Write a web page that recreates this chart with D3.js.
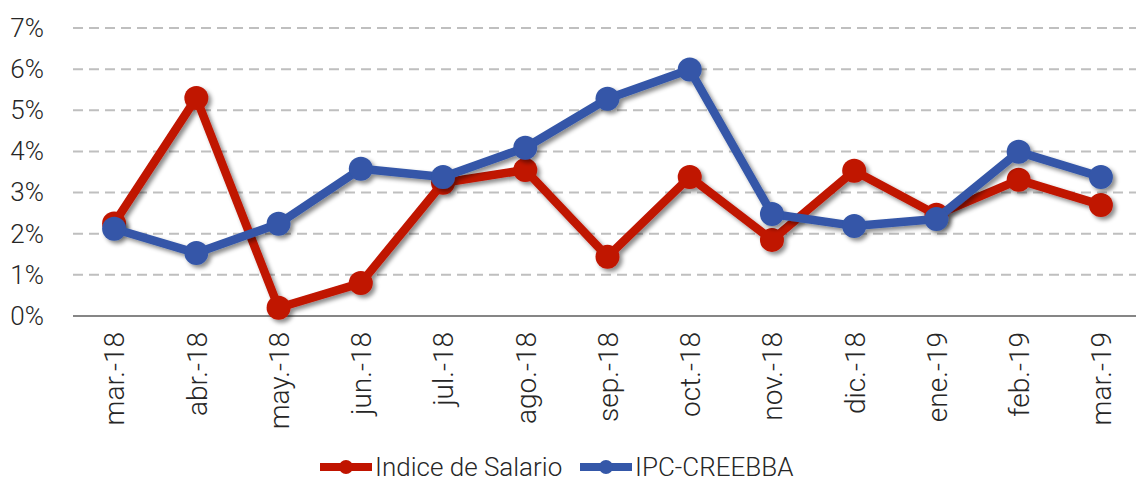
<!DOCTYPE html>
<html>
<head>
<meta charset="utf-8">
<script src="https://cdn.jsdelivr.net/npm/d3@7"></script>
<style>
  body { margin: 0; background: #fff; }
  svg { font-family: Roboto, "Liberation Sans", sans-serif; font-weight: 300; }
</style>
</head>
<body>
<svg id="chart" width="1136" height="481"></svg>
<script>
// data
const months = ["mar.-18", "abr.-18", "may.-18", "jun.-18", "jul.-18", "ago.-18", "sep.-18",
                "oct.-18", "nov.-18", "dic.-18", "ene.-19", "feb.-19", "mar.-19"];
const salario = [2.25, 5.3, 0.2, 0.8, 3.24, 3.55, 1.44, 3.38, 1.85, 3.53, 2.46, 3.31, 2.7];
const ipc = [2.12, 1.53, 2.24, 3.58, 3.38, 4.09, 5.28, 5.99, 2.48, 2.19, 2.36, 3.99, 3.38];
const yTicks = [0, 1, 2, 3, 4, 5, 6, 7];
const seriesNames = ["Indice de Salario", "IPC-CREEBBA"];
const seriesColors = ["#C01400", "#3457A8"];

const svg = d3.select("#chart");
const margin = {top: 28, right: -6, bottom: 165, left: 73};
const W = 1136, H = 481;

let x = d3.scalePoint().domain(months)
          .range([margin.left, W - margin.right]).padding(0.5);
let y = d3.scaleLinear().domain([0, 7]).range([316, 28]);

// drop shadow like the spreadsheet chart
let defs = svg.append("defs");
let f = defs.append("filter").attr("id", "shadow")
            .attr("x", "-20%").attr("y", "-20%").attr("width", "140%").attr("height", "140%");
f.append("feDropShadow").attr("dx", 3).attr("dy", 3).attr("stdDeviation", 2.2)
 .attr("flood-color", "#000").attr("flood-opacity", 0.45);

// gridlines
svg.append("g").selectAll("line")
   .data(yTicks.filter(d => d > 0))
   .enter().append("line")
   .attr("x1", margin.left).attr("x2", W)
   .attr("y1", d => y(d)).attr("y2", d => y(d))
   .attr("stroke", "#BFBFBF").attr("stroke-width", 2)
   .attr("stroke-dasharray", "10,6");

// y axis labels
let yAxis = svg.append("g")
   .attr("transform", "translate(" + (margin.left - 26) + ",0)")
   .call(d3.axisLeft(y).tickValues(yTicks).tickFormat(d => d + "%").tickSize(0));
yAxis.select(".domain").remove();
yAxis.selectAll("text").attr("font-size", 26).attr("fill", "#262626")
     .attr("font-family", "Roboto").attr("font-weight", 300).attr("dx", 0);

// x axis
let xAxis = svg.append("g")
   .attr("transform", "translate(0," + y(0) + ")")
   .call(d3.axisBottom(x).tickSize(0).tickSizeOuter(0));
xAxis.select(".domain").attr("stroke", "#868686").attr("stroke-width", 2)
     .attr("d", "M" + margin.left + ",0H" + W);
xAxis.selectAll("text")
     .attr("font-size", 28).attr("fill", "#262626")
     .attr("font-family", "Roboto").attr("font-weight", 300)
     .attr("transform", "rotate(-90)")
     .attr("text-anchor", "end")
     .attr("x", -16).attr("y", 0).attr("dy", "0.35em");

// series
const series = [salario, ipc];
let line = d3.line().x((d, i) => x(months[i])).y(d => y(d));

series.forEach(function(vals, s){
  let g = svg.append("g").attr("filter", "url(#shadow)");
  g.append("path").datum(vals)
   .attr("d", line)
   .attr("fill", "none")
   .attr("stroke", seriesColors[s])
   .attr("stroke-width", 8.5)
   .attr("stroke-linejoin", "round");
  g.selectAll("circle").data(vals).enter().append("circle")
   .attr("cx", (d, i) => x(months[i]))
   .attr("cy", d => y(d))
   .attr("r", 12)
   .attr("fill", seriesColors[s]);
});

// legend
let legX = [320, 580];
seriesNames.forEach(function(name, s){
  let lg = svg.append("g").attr("transform", "translate(" + legX[s] + ",467)");
  lg.append("line").attr("x1", 0).attr("x2", 52).attr("y1", 0).attr("y2", 0)
    .attr("stroke", seriesColors[s]).attr("stroke-width", 8);
  lg.append("circle").attr("cx", 26).attr("cy", 0).attr("r", 7).attr("fill", seriesColors[s]);
  lg.append("text").attr("x", 55).attr("y", 0).attr("dy", "0.35em")
    .attr("font-size", 26).attr("fill", "#262626")
    .text(name);
});
</script>
</body>
</html>
